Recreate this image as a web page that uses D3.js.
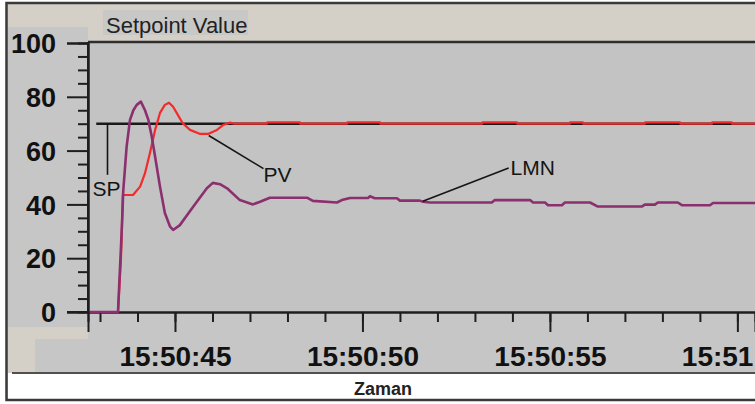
<!DOCTYPE html>
<html>
<head>
<meta charset="utf-8">
<script src="https://cdn.jsdelivr.net/npm/d3@7"></script>
<style>
  html, body { margin: 0; padding: 0; background: #ffffff; }
  svg { display: block; }
  text { font-family: "Liberation Sans", Arial, sans-serif; }
</style>
</head>
<body>
<svg id="chart" width="755" height="404"></svg>
<script>
// Trend recording: setpoint, process value and controller output (seconds after 15:50:00)
const timeDomain = [42.68, 60.47];
const valueDomain = [0, 100];
const yMajorTicks = [0, 20, 40, 60, 80, 100];
const chartTitle = "Setpoint Value";
const axisTitle = "Zaman";

const spTime  = [42.9, 60.47];
const spValue = [70, 70];

const pvTime  = [42.73, 43.48, 43.56, 43.61, 43.88, 44.07, 44.2, 44.33, 44.47, 44.6, 44.73, 44.84,
                 44.95, 45.08, 45.21, 45.4, 45.67, 45.88, 46.12, 46.28, 46.47, 46.6,
                 47.45, 47.46, 48.33, 48.34, 49.59, 49.6, 50.47, 50.48,
                 53.19, 53.2, 54.12, 54.13, 55.53, 55.54, 55.88, 55.89,
                 57.53, 57.54, 58.47, 58.48, 59.32, 59.33, 59.85, 59.86, 60.47];
const pvValue = [0, 0, 20, 43.5, 43.5, 46.6, 51.6, 59, 67.7, 74, 77, 77.8,
                 76.3, 73.2, 70.1, 67.7, 66.2, 66.2, 67.7, 69.5, 70.4, 70,
                 70, 70.5, 70.5, 70, 70, 70.5, 70.5, 70,
                 70, 70.5, 70.5, 70, 70, 70.5, 70.5, 70,
                 70, 70.5, 70.5, 70, 70, 70.5, 70.5, 70, 70];

const lmnTime  = [42.73, 43.48, 43.58, 43.62, 43.71, 43.8, 43.89, 43.98, 44.09, 44.2, 44.29, 44.38,
                  44.47, 44.6, 44.73, 44.87, 44.95, 45.13, 45.48, 45.85, 46.01, 46.2, 46.39, 46.73,
                  47.08, 47.27, 47.53, 48.52, 48.68, 49.32, 49.45, 49.67, 50.15, 50.2, 50.33, 50.92,
                  51.0, 51.53, 51.61, 51.8, 53.45, 53.53, 54.47, 54.55, 54.87, 54.95, 55.32, 55.4,
                  56.07, 56.28, 57.45, 57.53, 57.8, 57.88, 58.41, 58.52, 59.27, 59.35, 60.47];
const lmnValue = [0, 0, 30.5, 45, 61.5, 71.4, 75, 77, 78.2, 75, 71.4, 65.2,
                  57.7, 46.6, 36.8, 31.7, 30.5, 32.3, 39, 46, 48, 47.5, 46, 41.6,
                  40, 41, 42.5, 42.5, 41.3, 40.7, 41.6, 42.4, 42.4, 43, 42.3, 42.3,
                  41.4, 41.4, 41, 40.7, 40.7, 41.6, 41.6, 40.7, 40.7, 39.7, 39.7, 40.7,
                  40.7, 39.2, 39.2, 39.9, 39.9, 40.7, 40.7, 39.7, 39.7, 40.5, 40.5];

// Labels with leader lines: [series time where the leader starts, label]
const labelNames = ["SP", "PV", "LMN"];

const base = new Date(2020, 0, 1, 15, 50, 0).getTime();
const toDate = s => new Date(base + s * 1000);

const svg = d3.select("#chart");
const plot = { left: 88, right: 755, top: 43, bottom: 312 };

const x = d3.scaleTime().domain(timeDomain.map(toDate)).range([plot.left, plot.right]);
const y = d3.scaleLinear().domain(valueDomain).range([plot.bottom, plot.top]);

// ---- window panels ----
svg.append("rect").attr("x", 0).attr("y", 0).attr("width", 755).attr("height", 404).attr("fill", "#ffffff");
svg.append("rect").attr("x", 6).attr("y", 3).attr("width", 760).attr("height", 397).attr("fill", "#d4d0c8");
// left axis panel
svg.append("rect").attr("x", 8).attr("y", 27).attr("width", 80).attr("height", 300).attr("fill", "#c6c6c6");
// bottom axis panel
svg.append("rect").attr("x", 35).attr("y", 339).attr("width", 720).attr("height", 34).attr("fill", "#c6c6c6");
svg.append("rect").attr("x", 88).attr("y", 312).attr("width", 667).attr("height", 30).attr("fill", "#c6c6c6");
// white caption strip
svg.append("rect").attr("x", 8).attr("y", 373).attr("width", 760).attr("height", 26).attr("fill", "#ffffff");
svg.append("line").attr("x1", 12).attr("x2", 755).attr("y1", 373).attr("y2", 373)
  .attr("stroke", "#505050").attr("stroke-width", 2);
// outer frame
svg.append("rect").attr("x", 6.5).attr("y", 3).attr("width", 770).attr("height", 397)
  .attr("fill", "none").attr("stroke", "#3a3a3a").attr("stroke-width", 2.5);

// title box
svg.append("rect").attr("x", 103).attr("y", 10).attr("width", 145).attr("height", 25).attr("fill", "#c8c8c6");
svg.append("text").attr("x", 106).attr("y", 33).attr("font-size", 22).attr("fill", "#222")
  .text(chartTitle);

// plot background
svg.append("rect").attr("x", plot.left).attr("y", plot.top)
  .attr("width", plot.right - plot.left).attr("height", plot.bottom - plot.top).attr("fill", "#c3c3c3");
svg.append("line").attr("x1", plot.left).attr("x2", 755).attr("y1", plot.top - 1).attr("y2", plot.top - 1)
  .attr("stroke", "#2e2e2e").attr("stroke-width", 2.5);

// ---- y axis ----
const yMinor = d3.range(0, 101, 5).filter(v => !yMajorTicks.includes(v));
const yAxisMajor = d3.axisLeft(y).tickValues(yMajorTicks).tickSize(21).tickPadding(10).tickFormat(d3.format("d"));
const yAxisMinor = d3.axisLeft(y).tickValues(yMinor).tickSize(10).tickFormat("");
const gyMinor = svg.append("g").attr("transform", `translate(${plot.left},0)`).call(yAxisMinor);
const gy = svg.append("g").attr("transform", `translate(${plot.left},0)`).call(yAxisMajor);
[gy, gyMinor].forEach(g => {
  g.select(".domain").attr("stroke", "#1e1e1e").attr("stroke-width", 2);
  g.selectAll(".tick line").attr("stroke", "#1e1e1e").attr("stroke-width", 2);
});
gy.selectAll(".tick text").attr("font-family", "Liberation Sans, Arial, sans-serif")
  .attr("font-size", 27).attr("font-weight", "bold").attr("fill", "#111").attr("x", -32).attr("dy", "0.36em");

// ---- x axis ----
const xAxisMajor = d3.axisBottom(x).ticks(d3.timeSecond.every(5)).tickSize(20).tickPadding(14)
  .tickFormat(d3.timeFormat("%H:%M:%S"));
const xAxisMinor = d3.axisBottom(x).ticks(d3.timeSecond.every(1)).tickSize(10).tickFormat("");
const gxMinor = svg.append("g").attr("transform", `translate(0,${plot.bottom})`).call(xAxisMinor);
const gx = svg.append("g").attr("transform", `translate(0,${plot.bottom})`).call(xAxisMajor);
[gx, gxMinor].forEach(g => {
  g.select(".domain").attr("stroke", "#1e1e1e").attr("stroke-width", 2);
  g.selectAll(".tick line").attr("stroke", "#1e1e1e").attr("stroke-width", 2);
});
gx.selectAll(".tick text").attr("font-family", "Liberation Sans, Arial, sans-serif")
  .attr("font-size", 28).attr("font-weight", "bold").attr("fill", "#111");
// extend the baseline under the zero tick
svg.append("line").attr("x1", 67).attr("x2", plot.left).attr("y1", plot.bottom).attr("y2", plot.bottom)
  .attr("stroke", "#1e1e1e").attr("stroke-width", 2);
// vertical axis line
svg.append("line").attr("x1", plot.left).attr("x2", plot.left).attr("y1", plot.top - 1).attr("y2", plot.bottom)
  .attr("stroke", "#1e1e1e").attr("stroke-width", 2);

svg.append("text").attr("x", 383).attr("y", 395).attr("text-anchor", "middle")
  .attr("font-size", 18).attr("font-weight", "bold").attr("fill", "#222").text(axisTitle);

// ---- series ----
const line = d3.line().x(d => x(toDate(d[0]))).y(d => y(d[1]));
const zip = (a, b) => a.map((t, i) => [t, b[i]]);

const clip = svg.append("clipPath").attr("id", "plotClip").append("rect")
  .attr("x", plot.left).attr("y", plot.top).attr("width", plot.right - plot.left).attr("height", plot.bottom - plot.top + 2);
const series = svg.append("g").attr("clip-path", "url(#plotClip)");

series.append("path").datum(zip(spTime, spValue)).attr("d", line)
  .attr("fill", "none").attr("stroke", "#1a1a1a").attr("stroke-width", 2.6);
series.append("path").datum(zip(pvTime, pvValue)).attr("d", line)
  .attr("fill", "none").attr("stroke", "#f42a2a").attr("stroke-width", 2.2).attr("stroke-linejoin", "round");
series.append("path").datum(zip(lmnTime, lmnValue)).attr("d", line)
  .attr("fill", "none").attr("stroke", "#8c2f6e").attr("stroke-width", 2.6).attr("stroke-linejoin", "round");

// ---- leader lines and labels ----
const spX = 43.2;
const leaders = [
  { name: labelNames[0], from: [spX, 70], to: [spX, 51], label: [spX - 0.4, 43.2], anchor: "start" },
  { name: labelNames[1], from: [45.9, 65.6], to: [47.36, 53.3], label: [47.36, 48.5], anchor: "start" },
  { name: labelNames[2], from: [51.61, 41.2], to: [53.9, 53.5], label: [53.95, 51], anchor: "start" }
];
leaders.forEach(l => {
  svg.append("line")
    .attr("x1", x(toDate(l.from[0]))).attr("y1", y(l.from[1]))
    .attr("x2", x(toDate(l.to[0]))).attr("y2", y(l.to[1]))
    .attr("stroke", "#151515").attr("stroke-width", 1.6);
  svg.append("text").attr("x", x(toDate(l.label[0]))).attr("y", y(l.label[1]))
    .attr("text-anchor", l.anchor).attr("font-size", 21).attr("fill", "#151515").text(l.name);
});
</script>
</body>
</html>
